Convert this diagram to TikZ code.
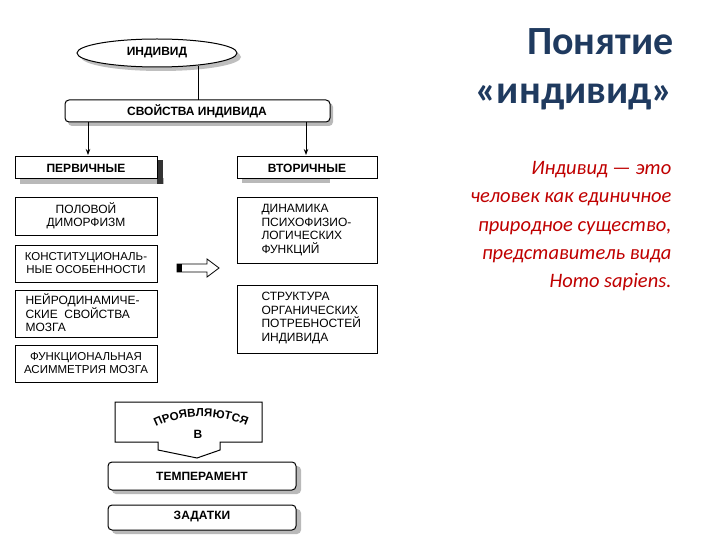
\documentclass[tikz,border=0pt]{standalone}
\usepackage{fontspec}
\setmainfont{Liberation Sans}
\newfontfamily\titlefont{Carlito}
\usetikzlibrary{shapes.geometric,decorations.text,arrows.meta}
\begin{document}
\begin{tikzpicture}[x=1pt,y=-1pt,
 shd/.style={fill=gray!55},
 lbl/.style={font=\fontsize{12}{13}\selectfont\bfseries},
 tx/.style={font=\fontsize{12}{13.5}\selectfont,align=left,anchor=west},
 txc/.style={font=\fontsize{12}{13.5}\selectfont,align=center},
 con/.style={line width=0.9pt,-{Stealth[length=6pt]}}]
\useasboundingbox[fill=white] (0,0) rectangle (720,540);
% ellipse
\fill[gray!50] (161,57) ellipse (80 and 14);
\node[draw,ellipse,line width=1pt,fill=white,minimum width=160,minimum height=28,lbl] (ind) at (157,53) {ИНДИВИД};
\coordinate (indb) at (198,66);
% properties
\fill[shd,rounded corners=4] (68,103) rectangle (333,126);
\draw[line width=1pt,fill=white,rounded corners=4] (65,100) rectangle (330,122);
\node[lbl] (sv) at (197,111) {СВОЙСТВА ИНДИВИДА};
\coordinate (svt) at (198,100);
\draw[line width=0.9pt] (indb) -- (svt);
% first / second
\fill[shd] (20,178) rectangle (164,184); \fill[black!80] (157,160) rectangle (163,184);
\draw[line width=1pt,fill=white] (15,157) rectangle (157,179);
\node[lbl] (p1) at (86,168) {ПЕРВИЧНЫЕ};
\fill[shd] (242,179) rectangle (330,183);
\draw[line width=1pt,fill=white] (237,157) rectangle (377,179);
\node[lbl] (p2) at (307,168) {ВТОРИЧНЫЕ};
\coordinate (a1) at (88,122); \coordinate (a1e) at (88,155);
\coordinate (a2) at (306,122); \coordinate (a2e) at (306,155);
\draw[con] (a1) -- (a1e);
\draw[con] (a2) -- (a2e);
% left boxes
\draw[line width=1pt] (15,198) rectangle (157,235);
\node[txc] (l1) at (86,216) {ПОЛОВОЙ\\ДИМОРФИЗМ};
\draw[line width=1pt] (15,245) rectangle (157,282);
\node[txc,font=\fontsize{11.5}{13.5}\selectfont] (l2) at (86,263) {КОНСТИТУЦИОНАЛЬ-\\НЫЕ ОСОБЕННОСТИ};
\draw[line width=1pt] (15,290) rectangle (157,337);
\node[tx] (l3) at (22,313) {НЕЙРОДИНАМИЧЕ-\\СКИЕ \ СВОЙСТВА\\МОЗГА};
\draw[line width=1pt] (15,345) rectangle (157,382);
\node[txc,font=\fontsize{11.5}{13.5}\selectfont] (l4) at (86,363) {ФУНКЦИОНАЛЬНАЯ\\АСИММЕТРИЯ МОЗГА};
% right boxes
\draw[line width=1pt] (237,198) rectangle (377,263);
\node[tx] (r1) at (258,230) {ДИНАМИКА\\ПСИХОФИЗИО-\\ЛОГИЧЕСКИХ\\ФУНКЦИЙ};
\draw[line width=1pt] (237,285) rectangle (377,353);
\node[tx] (r2) at (258,318) {СТРУКТУРА\\ОРГАНИЧЕСКИХ\\ПОТРЕБНОСТЕЙ\\ИНДИВИДА};
% block arrow
\draw[line width=0.8pt] (177,264) -- (207,264) -- (207,259) -- (219,268) -- (207,277) -- (207,272) -- (177,272) -- cycle;
\fill (177,264) rectangle (182,272);
% bottom arrow
\draw[line width=1pt] (115,402) -- (262,402) -- (262,442) -- (220,442) -- (220,450) -- (197,458) -- (158,450) -- (158,442) -- (115,442) -- cycle;
\path[decorate,decoration={text along path,text align=center,text={|\fontsize{11.5}{12}\selectfont\bfseries|ПРОЯВЛЯЮТСЯ}}] (143,435) .. controls (175,411) and (225,411) .. (260,433);
\node[lbl] (v) at (198,434) {В};
% temperament, zadatki
\fill[shd,rounded corners=4] (112,466) rectangle (301,494);
\draw[line width=1pt,fill=white,rounded corners=4] (108,462) rectangle (296,490);
\node[lbl] (t) at (202,476) {ТЕМПЕРАМЕНТ};
\fill[shd,rounded corners=4] (112,509) rectangle (301,534);
\draw[line width=1pt,fill=white,rounded corners=4] (108,505) rectangle (296,530);
\node[lbl] (z) at (202,517) {ЗАДАТКИ};
% right text
\definecolor{ttl}{HTML}{1F3A5F}
\node[anchor=east,text=ttl,font=\titlefont\bfseries\fontsize{40}{42}\selectfont] (title1) at (677,42) {Понятие};
\node[anchor=east,text=ttl,font=\titlefont\bfseries\fontsize{40}{42}\selectfont] (title2) at (677,97) {«индивид»};
\node[anchor=north east,align=right,text={rgb,255:red,192;green,0;blue,0},font=\titlefont\itshape\fontsize{20.5}{28.3}\selectfont] (body) at (675,158) {Индивид — это\\человек как единичное\\природное существо,\\представитель вида\\Homo sapiens.};
\end{tikzpicture}
\end{document}
